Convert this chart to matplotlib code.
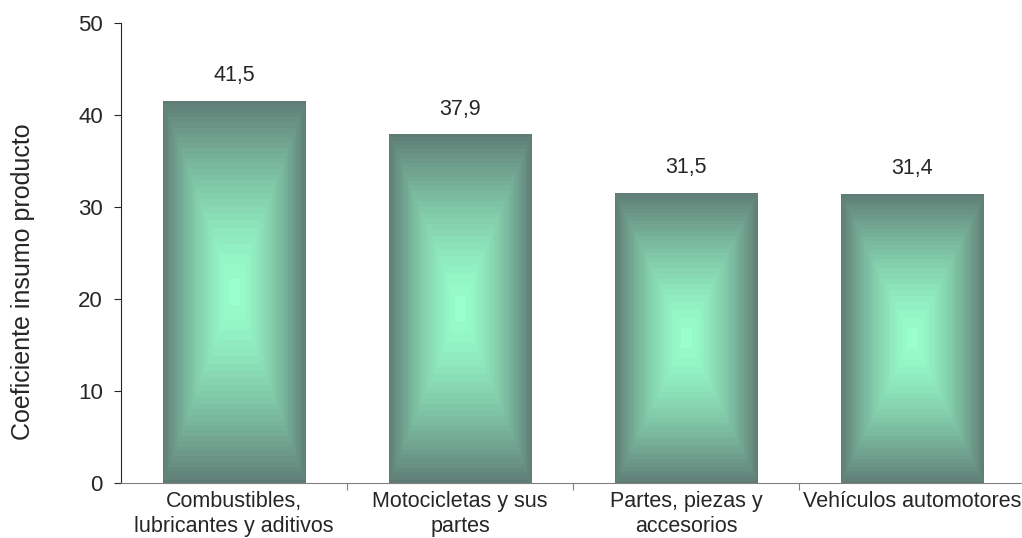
import numpy as np
import matplotlib
matplotlib.use("Agg")
import matplotlib.pyplot as plt
from matplotlib.colors import LinearSegmentedColormap

categories = ["Combustibles,\nlubricantes y aditivos", "Motocicletas y sus\npartes",
              "Partes, piezas y\naccesorios", "Vehículos automotores"]
values = [41.5, 37.9, 31.5, 31.4]
value_labels = ["41,5", "37,9", "31,5", "31,4"]
yticks = [0, 10, 20, 30, 40, 50]

plt.rcParams['font.family'] = ['Liberation Sans', 'DejaVu Sans']
TXT = '#262626'

fig = plt.figure(figsize=(10.22, 5.38), dpi=100)
ax = fig.add_axes([121/1022, 55/538, 904/1022, 460/538])

width = 0.63
cmap = LinearSegmentedColormap.from_list("g", [(0.6, 1.0, 0.8), (0.376, 0.49, 0.465)])
n = 400
u = np.linspace(-1, 1, n)
X, Y = np.meshgrid(u, u)
T = np.maximum(np.abs(X), np.abs(Y))
T = T ** 1.5
T = np.round(T * 28) / 28

for i, v in enumerate(values):
    ax.imshow(T, cmap=cmap, vmin=0, vmax=1, aspect='auto', interpolation='nearest',
              extent=(i - width/2, i + width/2, 0, v), zorder=2)
    ax.text(i, v + 2.75, value_labels[i], ha='center', va='center', fontsize=15.5, color=TXT)

ax.set_xlim(-0.5, 3.5)
ax.set_ylim(0, 50)
ax.set_yticks(yticks)
ax.set_yticklabels([str(t) for t in yticks], fontsize=16, color=TXT)
ax.set_xticks([0.5, 1.5, 2.5], minor=False)
ax.set_xticklabels([])
ax.set_xticks(range(4), minor=True)
ax.set_xticklabels(categories, minor=True, fontsize=15.5, color=TXT, linespacing=1.2)
ax.tick_params(axis='x', which='minor', length=0, pad=6)
ax.tick_params(axis='x', which='major', length=5, color='#808080', direction='out')
ax.tick_params(axis='y', length=5, color=TXT, pad=8)
for s in ['top', 'right']:
    ax.spines[s].set_visible(False)
ax.spines['bottom'].set_color('#808080')
ax.spines['left'].set_color(TXT)
ax.spines['bottom'].set_zorder(3)
fig.text(23/1022, 1 - 282/538, "Coeficiente insumo producto", rotation=90,
         ha='center', va='center', fontsize=18, color=TXT)

fig.savefig("out.png", dpi=100)
